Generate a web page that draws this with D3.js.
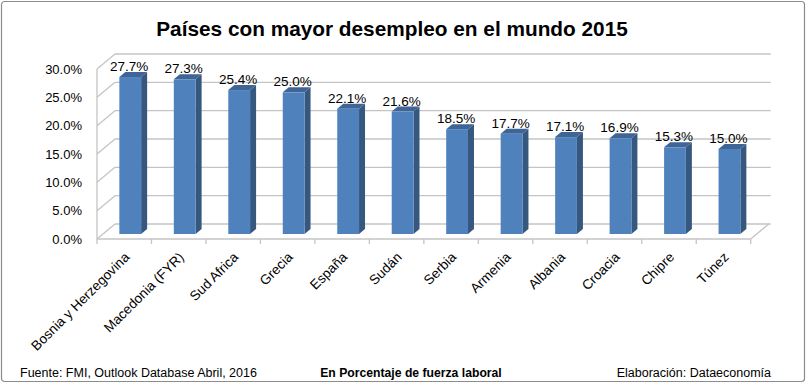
<!DOCTYPE html>
<html>
<head>
<meta charset="utf-8">
<script src="https://cdn.jsdelivr.net/npm/d3@7"></script>
<style>
  html, body { margin: 0; padding: 0; background: #fff; }
  svg { display: block; font-family: "Liberation Sans", Arial, sans-serif; }
</style>
</head>
<body>
<svg id="chart" width="806" height="388"></svg>
<script>
// data
var paises = ["Bosnia y Herzegovina", "Macedonia (FYR)", "Sud Africa", "Grecia", "España",
  "Sudán", "Serbia", "Armenia", "Albania", "Croacia", "Chipre", "Túnez"];
var desempleo = [27.7, 27.3, 25.4, 25.0, 22.1, 21.6, 18.5, 17.7, 17.1, 16.9, 15.3, 15.0];
var yTicks = [0, 5, 10, 15, 20, 25, 30];

var titulo = "Países con mayor desempleo en el mundo 2015";
var fuente = "Fuente: FMI, Outlook Database Abril, 2016";
var unidad = "En Porcentaje de fuerza laboral";
var elaboracion = "Elaboración: Dataeconomía";

(function () {
    "use strict";

    var svg = d3.select("#chart");
    var fmt = function (v) { return v.toFixed(1) + "%"; };

    // front plane scales; the 3D depth is a fixed shear
    var x = d3.scaleBand().domain(paises).range([97, 750.7]);
    var y = d3.scaleLinear().domain([0, 30]).range([239, 69]);
    var depth = { dx: 18, dy: -15 };
    var gridColor = "#c4c4c4";

    // outer frame
    svg.append("rect")
        .attr("x", 1.5).attr("y", 1.5)
        .attr("width", 803).attr("height", 380)
        .attr("rx", 3)
        .attr("fill", "#fff")
        .attr("stroke", "#8c8c8c")
        .attr("stroke-width", 1.2);

    svg.append("text")
        .attr("x", 392).attr("y", 36)
        .attr("text-anchor", "middle")
        .attr("font-weight", "bold")
        .attr("font-size", 20.8)
        .text(titulo);

    var x0 = x.range()[0], x1 = x.range()[1];
    var grid = svg.append("g").attr("stroke", gridColor).attr("stroke-width", 1.3).attr("fill", "none");

    // back wall gridlines
    grid.selectAll("line.back")
        .data(yTicks)
        .join("line")
        .attr("class", "back")
        .attr("x1", x0 + depth.dx).attr("x2", x1 + depth.dx + 2)
        .attr("y1", function (d) { return y(d) + depth.dy; })
        .attr("y2", function (d) { return y(d) + depth.dy; });

    // side wall diagonals
    grid.selectAll("line.side")
        .data(yTicks)
        .join("line")
        .attr("class", "side")
        .attr("x1", x0).attr("x2", x0 + depth.dx)
        .attr("y1", function (d) { return y(d); })
        .attr("y2", function (d) { return y(d) + depth.dy; });

    // front-left edge, floor front edge and right floor edge
    grid.append("line")
        .attr("x1", x0).attr("x2", x0)
        .attr("y1", y(0)).attr("y2", y(30));
    grid.append("line")
        .attr("x1", x0).attr("x2", x1)
        .attr("y1", y(0)).attr("y2", y(0));
    grid.append("line")
        .attr("x1", x1).attr("x2", x1 + depth.dx)
        .attr("y1", y(0)).attr("y2", y(0) + depth.dy);

    // category ticks on the floor edge
    grid.selectAll("line.tick")
        .data(paises.concat([null]))
        .join("line")
        .attr("class", "tick")
        .attr("x1", function (d) { return d === null ? x1 : x(d); })
        .attr("x2", function (d) { return d === null ? x1 : x(d); })
        .attr("y1", y(0)).attr("y2", y(0) + 5);

    // y labels
    svg.append("g")
        .attr("font-size", 13)
        .attr("text-anchor", "end")
        .selectAll("text")
        .data(yTicks)
        .join("text")
        .attr("x", 82)
        .attr("y", function (d) { return y(d); })
        .attr("dy", "0.35em")
        .text(fmt);

    // bars: front face, side and top
    var barW = x.bandwidth() * 0.4;
    var off = { dx: depth.dx / 3, dy: depth.dy / 3 };
    var bars = svg.append("g")
        .selectAll("g")
        .data(paises)
        .join("g");

    function left(d) { return x(d) + (x.bandwidth() - barW) / 2 + off.dx; }
    function top(d, i) { return y(desempleo[i]) + off.dy; }
    var base = y(0) + off.dy;

    bars.append("path")
        .attr("fill", "#36587f")
        .attr("d", function (d, i) {
            var l = left(d) + barW, t = top(d, i);
            return "M" + l + "," + base + "L" + l + "," + t +
                "L" + (l + off.dx) + "," + (t + off.dy) +
                "L" + (l + off.dx) + "," + (base + off.dy) + "Z";
        });
    bars.append("path")
        .attr("fill", "#3e6595")
        .attr("d", function (d, i) {
            var l = left(d), t = top(d, i);
            return "M" + l + "," + t + "L" + (l + barW) + "," + t +
                "L" + (l + barW + off.dx) + "," + (t + off.dy) +
                "L" + (l + off.dx) + "," + (t + off.dy) + "Z";
        });
    bars.append("rect")
        .attr("fill", "#4f81bd")
        .attr("x", left)
        .attr("y", top)
        .attr("width", barW)
        .attr("height", function (d, i) { return base - top(d, i); });

    // value labels
    svg.append("g")
        .attr("font-size", 13.5)
        .attr("text-anchor", "middle")
        .selectAll("text")
        .data(paises)
        .join("text")
        .attr("x", function (d) { return left(d) + barW / 2 - 1; })
        .attr("y", function (d, i) { return top(d, i) - 6; })
        .text(function (d, i) { return fmt(desempleo[i]); });

    // rotated category labels
    svg.append("g")
        .attr("font-size", 13.6)
        .attr("text-anchor", "end")
        .selectAll("text")
        .data(paises)
        .join("text")
        .attr("transform", function (d) {
            return "translate(" + (x(d) + x.bandwidth() / 2 + 6) + ",258) rotate(-45)";
        })
        .text(function (d) { return d; });

    // footer
    var foot = svg.append("g").attr("font-size", 12.5);
    foot.append("text").attr("x", 20).attr("y", 377).text(fuente);
    foot.append("text").attr("x", 411).attr("y", 377)
        .attr("text-anchor", "middle").attr("font-weight", "bold")
        .attr("font-size", 12.2).text(unidad);
    foot.append("text").attr("x", 771).attr("y", 377)
        .attr("text-anchor", "end").text(elaboracion);
})();
</script>
</body>
</html>
